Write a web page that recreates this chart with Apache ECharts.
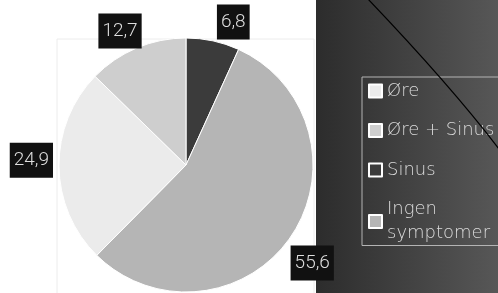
<!DOCTYPE html>
<html>
<head>
<meta charset="utf-8">
<script src="https://cdn.jsdelivr.net/npm/echarts@6/dist/echarts.min.js"></script>
<style>
  html, body { margin: 0; padding: 0; background: #fff; }
  #chart { width: 498px; height: 293px; }
</style>
</head>
<body>
<div id="chart"></div>
<script>
// slice order follows the pie clockwise from 12 o'clock
const categories = ['Sinus', 'Ingen symptomer', 'Øre', 'Øre + Sinus']
const shares = [6.8, 55.6, 24.9, 12.7]
const legendOrder = ['Øre', 'Øre + Sinus', 'Sinus', 'Ingen symptomer']

const sliceColors = ['#3b3b3b', '#b5b5b5', '#ebebeb', '#cecece']
// small nudges so the value boxes sit where the original put them
const labelNudge = [[4, -19], [0, 26], [-6, -6], [5, -17]]

const chart = echarts.init(document.getElementById('chart'), null, { renderer: 'canvas' })

const option = {
  animation: false,
  backgroundColor: '#ffffff',
  graphic: [
    {
      type: 'rect',
      z: -10,
      shape: { x: 57, y: 39, width: 257, height: 270 },
      style: { fill: 'none', stroke: '#ececec', lineWidth: 1 }
    },
    {
      type: 'rect',
      z: -9,
      shape: { x: 316, y: 0, width: 182, height: 293 },
      style: {
        fill: new echarts.graphic.LinearGradient(0, 0, 1, 0, [
          { offset: 0, color: '#2c2c2c' },
          { offset: 1, color: '#575757' }
        ])
      }
    },
    {
      type: 'bezierCurve',
      z: 20,
      shape: { x1: 367, y1: -2, x2: 499, y2: 149, cpx1: 451, cpy1: 86 },
      style: { stroke: '#000', lineWidth: 1.2, fill: 'none' }
    }
  ],
  legend: {
    orient: 'vertical',
    left: 362,
    top: 77,
    padding: [2, 8, 0, 6],
    borderColor: '#b4b4b4',
    borderWidth: 1,
    icon: 'rect',
    itemWidth: 13,
    itemHeight: 13,
    itemGap: 15.5,
    data: legendOrder,
    formatter: name => name === 'Ingen symptomer' ? 'Ingen\nsymptomer' : name,
    textStyle: {
      color: '#dadada',
      fontSize: 18,
      lineHeight: 24,
      fontFamily: '"DejaVu Sans ExtraLight", "DejaVu Sans", sans-serif',
      fontWeight: 300
    }
  },
  series: [
    {
      type: 'pie',
      center: [186, 165],
      radius: 127,
      startAngle: 90,
      clockwise: true,
      avoidLabelOverlap: false,
      itemStyle: { borderColor: '#ffffff', borderWidth: 1 },
      emphasis: { disabled: true },
      label: {
        show: true,
        position: 'outside',
        distanceToLabelLine: 0,
        formatter: p => String(p.value).replace('.', ','),
        color: '#dedede',
        backgroundColor: '#111111',
        fontSize: 19,
        lineHeight: 22,
        fontFamily: 'Roboto, sans-serif',
        fontWeight: 300,
        padding: [7, 4, 6, 4]
      },
      labelLine: { show: false, length: 0, length2: 0 },
      labelLayout: params => ({
        dx: labelNudge[params.dataIndex][0],
        dy: labelNudge[params.dataIndex][1]
      }),
      data: categories.map((name, i) => ({
        name: name,
        value: shares[i],
        itemStyle: { color: sliceColors[i] }
      }))
    }
  ]
}

chart.setOption(option)
window.addEventListener('resize', () => chart.resize())
</script>
</body>
</html>
